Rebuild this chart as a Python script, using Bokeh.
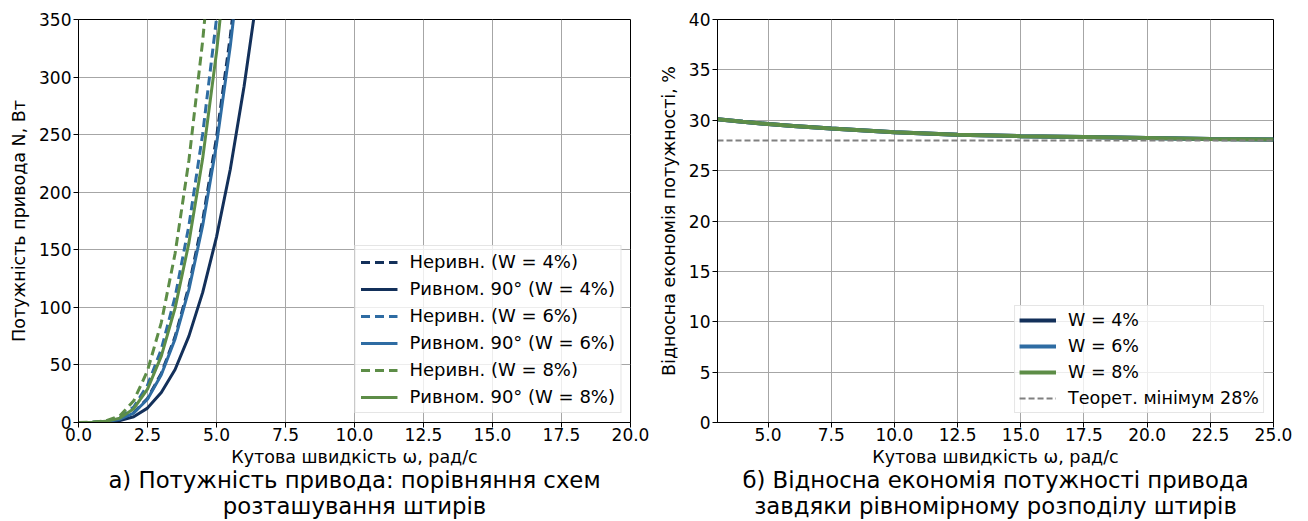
from bokeh.plotting import figure
from bokeh.layouts import row
from bokeh.models import (Range1d, SingleIntervalTicker, PrintfTickFormatter,
                          FixedTicker, LinearAxis, Legend, LegendItem)
from bokeh.embed import file_html
from bokeh.resources import INLINE

# ---- panel (a): drive power vs angular speed ----
OMEGA = [0.0, 0.5, 1.0, 1.5, 2.0, 2.5, 3.0, 3.5, 4.0, 4.5, 5.0, 5.5, 6.0, 6.5]

N_UNEVEN_W4 = [0, 0.1, 0.7, 3.0, 8.5, 20.9, 42.6, 74.6, 118.3, 175.7, 247.5, 335.3, 440]
N_EQUAL_W4 = [0, 0.1, 0.5, 1.8, 5.0, 12.5, 26, 46, 75, 113, 161, 220, 292, 376]
N_UNEVEN_W6 = [0, 0.15, 1.05, 4.2, 13.5, 32.3, 63.6, 109.1, 170.9, 250.8, 350.6, 471.8]
N_EQUAL_W6 = [0, 0.1, 0.7, 2.9, 8.2, 20.2, 41.4, 72.6, 115.4, 171.1, 241.3, 327, 429.6]
N_UNEVEN_W8 = [0, 0.2, 1.4, 5.8, 18.8, 45.0, 86.8, 146.8, 227.6, 331.6, 460.7]
N_EQUAL_W8 = [0, 0.15, 1.0, 3.8, 12.0, 29.0, 57.6, 99.3, 156, 229.4, 321.3, 433]

# ---- panel (b): relative power saving ----
OMEGA_R = [3, 4, 5, 6, 7.5, 10, 12.5, 15, 17.5, 20, 22.5, 25]
SAVE_W4 = [30.1, 29.85, 29.62, 29.42, 29.17, 28.8, 28.56, 28.42, 28.33, 28.24, 28.15, 28.08]
SAVE_W6 = [30.1, 29.85, 29.62, 29.42, 29.17, 28.8, 28.56, 28.42, 28.33, 28.24, 28.15, 28.08]
SAVE_W8 = [30.1, 29.85, 29.62, 29.42, 29.17, 28.8, 28.56, 28.42, 28.33, 28.24, 28.15, 28.08]
THEOR_MIN = 28

NAVY = "#13305a"
BLUE = "#2e6ca3"
GREEN = "#5d8d47"
FONT = "DejaVu Sans"


def style(p):
    p.outline_line_color = "black"
    p.outline_line_width = 1
    p.outline_line_alpha = 1
    p.grid.grid_line_color = "#a6a6a6"
    p.grid.grid_line_width = 1
    for ax in p.axis:
        ax.axis_line_color = "black"
        ax.major_tick_line_color = "black"
        ax.major_tick_out = 5
        ax.major_tick_in = 0
        ax.minor_tick_line_color = None
        ax.minor_tick_out = 0
        ax.minor_tick_in = 0
        ax.major_label_text_font = FONT
        ax.major_label_text_font_size = "17px"
        ax.major_label_text_color = "black"
        ax.major_label_standoff = 0
        ax.axis_label_text_font = FONT
        ax.axis_label_text_font_size = "17.5px"
        ax.axis_label_text_font_style = "normal"
        ax.axis_label_text_color = "black"
        ax.axis_label_standoff = 3


def add_caption(p, lines):
    # caption lines stacked under the x-axis label as tick-less axes
    for t in lines:
        ax = LinearAxis(ticker=FixedTicker(ticks=[]), axis_label=t,
                        axis_line_color=None, major_tick_line_color=None,
                        minor_tick_line_color=None,
                        major_tick_out=0, major_tick_in=0,
                        minor_tick_out=0, minor_tick_in=0,
                        major_label_standoff=0, axis_label_standoff=-3,
                        axis_label_text_font=FONT,
                        axis_label_text_font_size="22.8px",
                        axis_label_text_font_style="normal",
                        axis_label_text_color="black")
        p.add_layout(ax, "below")


def style_legend(leg, spacing, padding, size):
    leg.location = "bottom_right"
    leg.margin = 9
    leg.padding = padding
    leg.spacing = spacing
    leg.label_height = 20
    leg.glyph_height = 20
    leg.glyph_width = 37
    leg.label_standoff = 12
    leg.label_text_font = FONT
    leg.label_text_font_size = size
    leg.label_text_color = "black"
    leg.border_line_color = "#cccccc"
    leg.border_line_width = 1
    leg.background_fill_color = "white"
    leg.background_fill_alpha = 0.8


# panel (a)
p1 = figure(width=655, height=521, output_backend="svg", toolbar_location=None,
            x_range=Range1d(0, 20), y_range=Range1d(0, 350),
            min_border_left=78, min_border_right=25,
            min_border_top=19, min_border_bottom=99)
p1.xaxis.ticker = SingleIntervalTicker(interval=2.5)
p1.xaxis.formatter = PrintfTickFormatter(format="%.1f")
p1.yaxis.ticker = SingleIntervalTicker(interval=50)
p1.xaxis.axis_label = "Кутова швидкість ω, рад/с"
p1.yaxis.axis_label = "Потужність привода N, Вт"
style(p1)
p1.yaxis.axis_label_standoff = 7
p1.yaxis.major_label_standoff = 2

series_a = [
    (N_UNEVEN_W4, NAVY, "9 5", "Неривн. (W = 4%)"),
    (N_EQUAL_W4, NAVY, "solid", "Ривном. 90° (W = 4%)"),
    (N_UNEVEN_W6, BLUE, "9 5", "Неривн. (W = 6%)"),
    (N_EQUAL_W6, BLUE, "solid", "Ривном. 90° (W = 6%)"),
    (N_UNEVEN_W8, GREEN, "9 5", "Неривн. (W = 8%)"),
    (N_EQUAL_W8, GREEN, "solid", "Ривном. 90° (W = 8%)"),
]
items_a = []
for vals, col, dash, lab in series_a:
    r = p1.line(OMEGA[:len(vals)], vals, line_color=col, line_width=3,
                line_dash=dash)
    items_a.append(LegendItem(label=lab, renderers=[r]))
leg1 = Legend(items=items_a)
p1.add_layout(leg1, "center")
style_legend(leg1, spacing=6, padding=5, size="18px")
add_caption(p1, ["а) Потужність привода: порівняння схем", "розташування штирів"])

# panel (b)
p2 = figure(width=653, height=521, output_backend="svg", toolbar_location=None,
            x_range=Range1d(3, 25), y_range=Range1d(0, 40),
            min_border_left=62, min_border_right=35,
            min_border_top=19, min_border_bottom=99)
p2.xaxis.ticker = SingleIntervalTicker(interval=2.5)
p2.xaxis.formatter = PrintfTickFormatter(format="%.1f")
p2.yaxis.ticker = SingleIntervalTicker(interval=5)
p2.xaxis.axis_label = "Кутова швидкість ω, рад/с"
p2.yaxis.axis_label = "Відносна економія потужності, %"
style(p2)
p2.yaxis.axis_label_standoff = 7
p2.yaxis.major_label_standoff = 2

items_b = []
for vals, col, lab in [(SAVE_W4, NAVY, "W = 4%"), (SAVE_W6, BLUE, "W = 6%"),
                       (SAVE_W8, GREEN, "W = 8%")]:
    r = p2.line(OMEGA_R, vals, line_color=col, line_width=4)
    items_b.append(LegendItem(label=lab, renderers=[r]))
r_min = p2.line([OMEGA_R[0], OMEGA_R[-1]], [THEOR_MIN, THEOR_MIN],
                line_color="#808080", line_width=2, line_dash="6 3")
items_b.append(LegendItem(label=f"Теорет. мінімум {THEOR_MIN}%", renderers=[r_min]))
leg2 = Legend(items=items_b)
p2.add_layout(leg2, "center")
style_legend(leg2, spacing=6, padding=4, size="17.5px")
add_caption(p2, ["б) Відносна економія потужності привода",
                 "завдяки рівномірному розподілу штирів"])

layout = row(p1, p2)
open("out.html", "w").write(file_html(layout, INLINE))
